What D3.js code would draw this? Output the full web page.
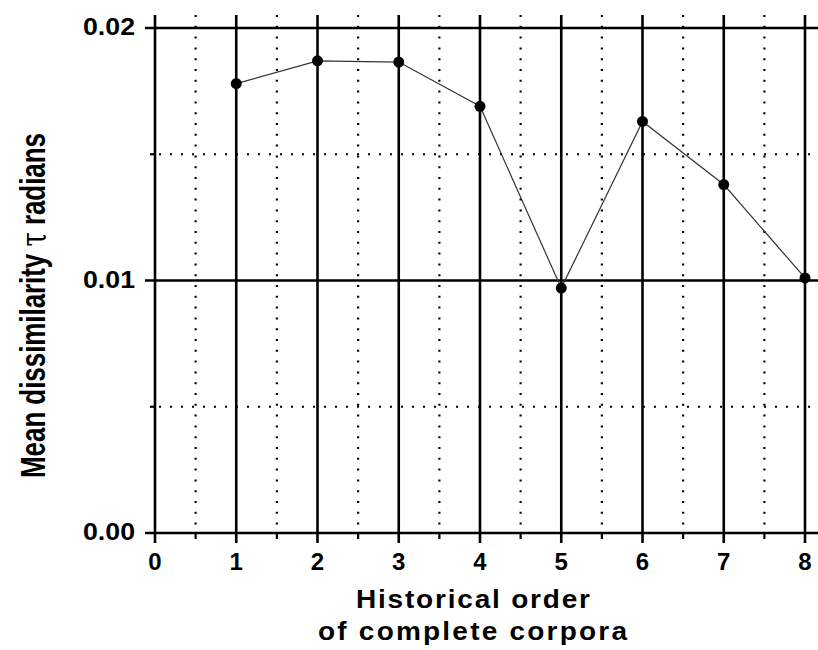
<!DOCTYPE html>
<html><head><meta charset="utf-8">
<script src="https://cdn.jsdelivr.net/npm/d3@7/dist/d3.min.js"></script>
<style>
body{margin:0;background:#fff;}
svg{display:block;font-family:"Liberation Sans",Arial,sans-serif;}
</style></head>
<body>
<svg id="chart" width="818" height="650"></svg>
<script>
const orders = [1, 2, 3, 4, 5, 6, 7, 8];
const dissimilarity = [0.0178, 0.0187, 0.01865, 0.0169, 0.0097, 0.0163, 0.0138, 0.0101];
const xTickValues = [0, 1, 2, 3, 4, 5, 6, 7, 8];
const xMinorValues = [0.5, 1.5, 2.5, 3.5, 4.5, 5.5, 6.5, 7.5];
const yTickValues = [0, 0.01, 0.02];
const yMinorValues = [0.005, 0.015];
const yTickLabels = ["0.00", "0.01", "0.02"];

const svg = d3.select("#chart");
const x = d3.scaleLinear().domain([0, 8]).range([155, 805]);
const y = d3.scaleLinear().domain([0, 0.02]).range([533, 28]);
const topY = 15, rightX = 818;

const g = svg.append("g");

// dotted vertical minor grid
g.selectAll(".vminor").data(xMinorValues).join("line")
  .attr("x1", d => x(d)).attr("x2", d => x(d))
  .attr("y1", topY).attr("y2", y(0))
  .attr("stroke", "#000").attr("stroke-width", 2.2)
  .attr("stroke-dasharray", "2,8.8");
g.selectAll(".vminortick").data(xMinorValues).join("line")
  .attr("x1", d => x(d)).attr("x2", d => x(d))
  .attr("y1", y(0)).attr("y2", y(0) + 6)
  .attr("stroke", "#000").attr("stroke-width", 2.2);

// dotted horizontal minor grid
g.selectAll(".hminor").data(yMinorValues).join("line")
  .attr("x1", x(0) + 4).attr("x2", rightX)
  .attr("y1", d => y(d)).attr("y2", d => y(d))
  .attr("stroke", "#000").attr("stroke-width", 2.2)
  .attr("stroke-dasharray", "2,9");
g.selectAll(".hminortick").data(yMinorValues).join("line")
  .attr("x1", x(0) - 5).attr("x2", x(0))
  .attr("y1", d => y(d)).attr("y2", d => y(d))
  .attr("stroke", "#000").attr("stroke-width", 2.2);

// solid horizontal grid (major)
g.selectAll(".hmajor").data(yTickValues).join("line")
  .attr("x1", x(0) - 10).attr("x2", rightX)
  .attr("y1", d => y(d)).attr("y2", d => y(d))
  .attr("stroke", "#000").attr("stroke-width", 2.6);

// solid vertical grid (major)
g.selectAll(".vmajor").data(xTickValues).join("line")
  .attr("x1", d => x(d)).attr("x2", d => x(d))
  .attr("y1", topY).attr("y2", y(0) + 10)
  .attr("stroke", "#000").attr("stroke-width", 2.6);

// tick labels
g.selectAll(".xlab").data(xTickValues).join("text")
  .attr("x", d => x(d)).attr("y", 570)
  .attr("text-anchor", "middle")
  .attr("font-size", 24).attr("font-weight", "bold")
  .text(d => d3.format("d")(d));
g.selectAll(".ylab").data(yTickValues).join("text")
  .attr("x", 83).attr("y", d => y(d) + 7)
  .attr("text-anchor", "start")
  .attr("font-size", 24).attr("font-weight", "bold")
  .attr("textLength", 52).attr("lengthAdjust", "spacingAndGlyphs")
  .text((d, i) => yTickLabels[i]);

// data line
const line = d3.line().x((d, i) => x(orders[i])).y(d => y(d));
g.append("path").datum(dissimilarity)
  .attr("d", line).attr("fill", "none")
  .attr("stroke", "#333").attr("stroke-width", 1.2);
g.selectAll(".pt").data(dissimilarity).join("circle")
  .attr("cx", (d, i) => x(orders[i])).attr("cy", d => y(d))
  .attr("r", 5.5).attr("fill", "#000");

// axis titles (slightly widened glyphs plus spacing)
const sx = 1.12;
svg.append("text").attr("transform", `translate(356,608) scale(${sx},1)`)
  .attr("font-size", 25).attr("font-weight", "bold")
  .attr("textLength", 234 / sx).attr("lengthAdjust", "spacing")
  .text("Historical order");
svg.append("text").attr("transform", `translate(318,640) scale(${sx},1)`)
  .attr("font-size", 25).attr("font-weight", "bold")
  .attr("textLength", 309 / sx).attr("lengthAdjust", "spacing")
  .text("of complete corpora");

const yt = svg.append("text")
  .attr("transform", "translate(45,478) rotate(-90) scale(1,1.35)")
  .attr("font-size", 26).attr("font-weight", "bold")
  .attr("textLength", 345).attr("lengthAdjust", "spacing");
yt.append("tspan").text("Mean dissimilarity ");
yt.append("tspan").attr("font-family", "'DejaVu Serif',serif").attr("font-weight", "normal").text("τ");
yt.append("tspan").text(" radians");
</script>
</body></html>
